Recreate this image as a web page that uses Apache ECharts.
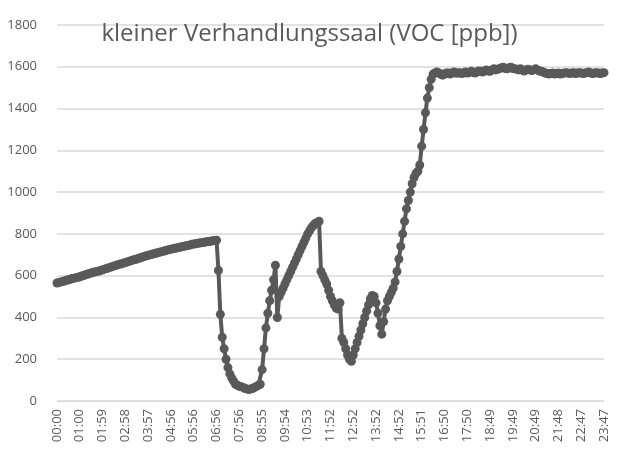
<!DOCTYPE html>
<html lang="en">
<head>
    <meta charset="UTF-8"/>
    <title>kleiner Verhandlungssaal</title>
    <script src="https://cdn.jsdelivr.net/npm/echarts@6/dist/echarts.min.js"></script>
</head>
<body style="margin:0">
<div id="main" style="width:619px;height:457px;"></div>
<script type="text/javascript">
    var titleText = 'kleiner Verhandlungssaal (VOC [ppb])';
    var yTicks = [0, 200, 400, 600, 800, 1000, 1200, 1400, 1600, 1800];
    var tickLabels = ['00:00','01:00','01:59','02:58','03:57','04:56','05:56','06:56','07:56',
        '08:55','09:54','10:53','11:52','12:52','13:52','14:52','15:51','16:50','17:50',
        '18:49','19:49','20:49','21:48','22:47','23:47'];

    // categories: one sample every ~5 min, labelled ones taken from tickLabels
    var times = [];
    for (var i = 0; i < 289; i++) {
        if (i % 12 === 0) { times.push(tickLabels[i / 12]); continue; }
        var m = Math.round(i * 1427 / 288);
        var h = Math.floor(m / 60), mm = m % 60;
        times.push((h < 10 ? '0' : '') + h + ':' + (mm < 10 ? '0' : '') + mm);
    }

    var voc = [
        565,567,570,572,575,578,580,583,586,588,590,592,
        595,598,601,604,607,610,613,616,618,620,622,625,
        628,631,634,637,640,643,646,649,652,655,657,660,
        663,666,669,672,675,677,680,683,686,689,692,695,
        697,700,702,705,707,710,712,715,717,720,722,725,
        727,729,731,733,735,737,739,741,743,745,747,750,
        751,753,755,756,758,759,761,762,764,765,767,768,770,
        625,415,305,250,200,160,130,110,95,80,75,70,68,65,60,58,55,58,60,65,70,75,80,
        150,250,350,420,480,530,580,650,
        400,
        500,520,540,560,580,600,620,640,660,680,700,720,740,760,780,800,815,830,840,850,855,860,
        620,600,580,560,530,500,480,460,445,440,
        470,300,280,250,220,200,190,
        220,250,280,310,340,370,400,430,460,490,505,
        500,470,420,360,320,
        380,440,480,500,
        520,540,570,620,680,740,800,860,920,960,1000,1040,1070,1090,1100,
        1130,1220,1300,1380,1450,1500,1540,
        1565,1570,1575,1570,1565,1560,1565,1570,1570,1565,1570,1575,1570,
        1570,1572,1568,1570,1575,1570,1572,1578,1575,1570,1575,1580,1578,1575,1580,
        1585,1580,1578,1585,1590,1585,1588,1592,1595,1598,1592,1590,1595,1598,1592,
        1590,1588,1585,1590,1585,1580,1585,1588,1585,1582,1585,1590,1585,1580,1578,
        1575,1570,1568,1565,1568,1570,1565,1568,1570,1565,1568,1570,1572,1570,1568,
        1570,1572,1568,1570,1572,1570,1568,1570,1572,1575,1570,1568,1570,1572,1570,1568,1570,1572
    ];

    var myChart = echarts.init(document.getElementById('main'));
    var option = {
        animation: false,
        title: {
            text: titleText,
            left: 'center',
            top: 17,
            textStyle: { fontFamily: 'Open Sans', fontSize: 24, fontWeight: 'normal', color: '#595959' }
        },
        grid: { left: 57, right: 15, top: 25, bottom: 56 },
        xAxis: {
            type: 'category',
            data: times,
            boundaryGap: false,
            axisLine: { lineStyle: { color: '#d9d9d9' } },
            axisTick: { show: false },
            axisLabel: { interval: 11, rotate: 90, color: '#595959', fontSize: 13,
                fontFamily: 'Open Sans', hideOverlap: false }
        },
        yAxis: {
            type: 'value',
            min: yTicks[0],
            max: yTicks[yTicks.length - 1],
            interval: 200,
            axisLine: { show: false },
            axisTick: { show: false },
            axisLabel: { color: '#595959', fontSize: 13, fontFamily: 'Open Sans', margin: 20,
                formatter: function (v) { return String(v); } },
            splitLine: { lineStyle: { color: '#d9d9d9', width: 1.5 } }
        },
        series: [{
            type: 'line',
            data: voc,
            symbol: 'circle',
            symbolSize: 9,
            showAllSymbol: true,
            lineStyle: { color: '#595959', width: 4 },
            itemStyle: { color: '#595959' }
        }]
    };
    myChart.setOption(option);
</script>
</body>
</html>
